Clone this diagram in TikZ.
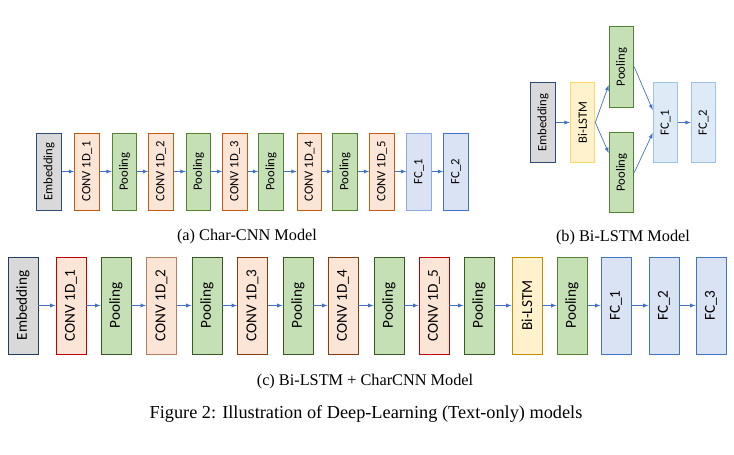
\documentclass[tikz,border=0pt]{standalone}
\usepackage{fontspec}
\usepackage{graphicx}
\setmainfont{Liberation Serif}
\newfontfamily\boxfont{Carlito}
\usetikzlibrary{calc}
\definecolor{embfill}{HTML}{D9D9D9}
\definecolor{embline}{HTML}{2F4A7A}
\definecolor{convfill}{HTML}{FBE5D6}
\definecolor{convline}{HTML}{C55A11}
\definecolor{convdark}{HTML}{843C0C}
\definecolor{convred}{HTML}{C00000}
\definecolor{poolfill}{HTML}{C5E0B4}
\definecolor{poolline}{HTML}{548235}
\definecolor{pooldark}{HTML}{385723}
\definecolor{fcfill}{HTML}{DAE3F3}
\definecolor{fcline}{HTML}{4472C4}
\definecolor{fclight}{HTML}{8FAADC}
\definecolor{fcfillb}{HTML}{DEEBF7}
\definecolor{fclineb}{HTML}{9DC3E6}
\definecolor{lstmfill}{HTML}{FFF2CC}
\definecolor{lstmline}{HTML}{BF9000}
\definecolor{lstmlight}{HTML}{FFD966}
\definecolor{pfeil}{HTML}{4472C4}
\begin{document}
\begin{tikzpicture}[x=0.03cm,y=-0.03cm]
\tikzset{kasten/.style={rectangle,line width=0.8pt,inner sep=0pt,font=\boxfont\fontsize{10.8}{12}\selectfont},
klein/.style={kasten,minimum width=21pt,minimum height=65.7pt},
mittel/.style={kasten,minimum width=21pt,minimum height=69pt},
gross/.style={kasten,minimum width=25.6pt,minimum height=82.8pt,font=\boxfont\fontsize{13}{15}\selectfont},
emb/.style={fill=embfill,draw=embline},
conv/.style={fill=convfill,draw=convline},
pool/.style={fill=poolfill,draw=poolline},
fc/.style={fill=fcfill,draw=fcline},
lstm/.style={fill=lstmfill,draw=lstmline},
pfeil/.style={-latex,draw=pfeil,line width=0.6pt},
titel/.style={font=\fontsize{13.9}{16}\selectfont}}
\useasboundingbox (0,0) rectangle (734,455);
% (a) Char-CNN
\node [klein,emb] (ae) at (49,171.5) {\rotatebox{90}{Embedding}};
\node [klein,conv] (ac1) at (87,171.5) {\rotatebox{90}{CONV 1D\_1}};
\node [klein,pool] (ap1) at (124.5,171.5) {\rotatebox{90}{Pooling}};
\node [klein,conv] (ac2) at (161,171.5) {\rotatebox{90}{CONV 1D\_2}};
\node [klein,pool] (ap2) at (198.5,171.5) {\rotatebox{90}{Pooling}};
\node [klein,conv] (ac3) at (235,171.5) {\rotatebox{90}{CONV 1D\_3}};
\node [klein,pool] (ap3) at (271,171.5) {\rotatebox{90}{Pooling}};
\node [klein,conv] (ac4) at (309.5,171.5) {\rotatebox{90}{CONV 1D\_4}};
\node [klein,pool] (ap4) at (345,171.5) {\rotatebox{90}{Pooling}};
\node [klein,conv] (ac5) at (382,171.5) {\rotatebox{90}{CONV 1D\_5}};
\node [klein,fc,draw=fclight] (af1) at (419,171.5) {\rotatebox{90}{FC\_1}};
\node [klein,fc] (af2) at (456,171.5) {\rotatebox{90}{FC\_2}};
\draw[pfeil] (ae) to (ac1);
\draw[pfeil] (ac1) to (ap1);
\draw[pfeil] (ap1) to (ac2);
\draw[pfeil] (ac2) to (ap2);
\draw[pfeil] (ap2) to (ac3);
\draw[pfeil] (ac3) to (ap3);
\draw[pfeil] (ap3) to (ac4);
\draw[pfeil] (ac4) to (ap4);
\draw[pfeil] (ap4) to (ac5);
\draw[pfeil] (ac5) to (af1);
\draw[pfeil] (af1) to (af2);
\node [titel] (at) at (247,237) {(a) Char-CNN Model};
% (b) Bi-LSTM
\node [mittel,emb] (be) at (543,122.5) {\rotatebox{90}{Embedding}};
\node [mittel,lstm,draw=lstmlight] (bl) at (582.5,122.5) {\rotatebox{90}{Bi-LSTM}};
\node [mittel,pool] (bp1) at (621.5,67) {\rotatebox{90}{Pooling}};
\node [mittel,pool] (bp2) at (621.5,172.5) {\rotatebox{90}{Pooling}};
\node [mittel,fill=fcfillb,draw=fclineb] (bf1) at (665.5,122.5) {\rotatebox{90}{FC\_1}};
\node [mittel,fill=fcfillb,draw=fclineb] (bf2) at (703.5,122.5) {\rotatebox{90}{FC\_2}};
\draw[pfeil] (be) to (bl);
\draw[pfeil] (bl.east) to ($(bp1.west)+(0,18)$);
\draw[pfeil] (bl.east) to ($(bp2.west)+(0,-19.5)$);
\draw[pfeil] (bp1.east) to ($(bf1.west)+(0,-12.5)$);
\draw[pfeil] (bp2.east) to ($(bf1.west)+(0,10.5)$);
\draw[pfeil] (bf1) to (bf2);
\node [titel] (bt) at (623,238) {(b) Bi-LSTM Model};
% (c) Bi-LSTM + CharCNN
\node [gross,emb,draw=embline!80!black] (ce) at (23,305.5) {\rotatebox{90}{Embedding}};
\node [gross,conv,draw=convred] (cc1) at (71,305.5) {\rotatebox{90}{CONV 1D\_1}};
\node [gross,pool,draw=pooldark] (cp1) at (116,305.5) {\rotatebox{90}{Pooling}};
\node [gross,conv,draw=convdark!60!convfill] (cc2) at (161.5,305.5) {\rotatebox{90}{CONV 1D\_2}};
\node [gross,pool,draw=pooldark] (cp2) at (207,305.5) {\rotatebox{90}{Pooling}};
\node [gross,conv,draw=convdark] (cc3) at (252.5,305.5) {\rotatebox{90}{CONV 1D\_3}};
\node [gross,pool,draw=pooldark] (cp3) at (298,305.5) {\rotatebox{90}{Pooling}};
\node [gross,conv,draw=convdark] (cc4) at (343,305.5) {\rotatebox{90}{CONV 1D\_4}};
\node [gross,pool,draw=pooldark] (cp4) at (389,305.5) {\rotatebox{90}{Pooling}};
\node [gross,conv,draw=convred] (cc5) at (434,305.5) {\rotatebox{90}{CONV 1D\_5}};
\node [gross,pool,draw=pooldark] (cp5) at (479,305.5) {\rotatebox{90}{Pooling}};
\node [gross,lstm] (cl) at (527,305.5) {\rotatebox{90}{Bi-LSTM}};
\node [gross,pool,draw=poolline] (cp6) at (572,305.5) {\rotatebox{90}{Pooling}};
\node [gross,fc] (cf1) at (616,305.5) {\rotatebox{90}{FC\_1}};
\node [gross,fc] (cf2) at (664,305.5) {\rotatebox{90}{FC\_2}};
\node [gross,fc] (cf3) at (711,305.5) {\rotatebox{90}{FC\_3}};
\draw[pfeil] (ce) to (cc1);
\draw[pfeil] (cc1) to (cp1);
\draw[pfeil] (cp1) to (cc2);
\draw[pfeil] (cc2) to (cp2);
\draw[pfeil] (cp2) to (cc3);
\draw[pfeil] (cc3) to (cp3);
\draw[pfeil] (cp3) to (cc4);
\draw[pfeil] (cc4) to (cp4);
\draw[pfeil] (cp4) to (cc5);
\draw[pfeil] (cc5) to (cp5);
\draw[pfeil] (cp5) to (cl);
\draw[pfeil] (cl) to (cp6);
\draw[pfeil] (cp6) to (cf1);
\draw[pfeil] (cf1) to (cf2);
\draw[pfeil] (cf2) to (cf3);
\node [titel] (ct) at (365,382) {(c) Bi-LSTM + CharCNN Model};
\node [titel,font=\fontsize{15.6}{18}\selectfont] (ft) at (366,414) {Figure 2: Illustration of Deep-Learning (Text-only) models};
\end{tikzpicture}
\end{document}
